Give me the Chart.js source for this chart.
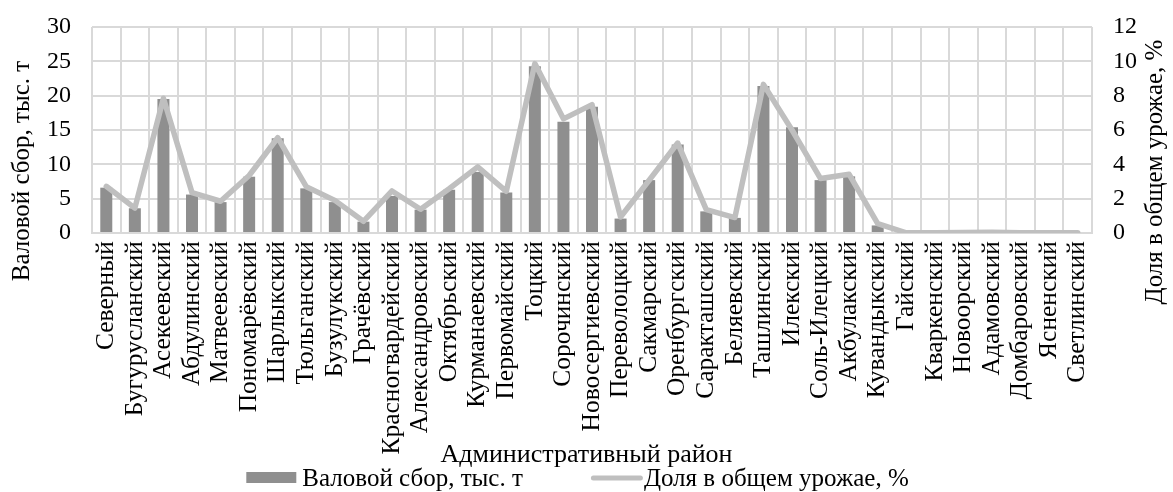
<!DOCTYPE html>
<html>
<head>
<meta charset="utf-8">
<script src="https://cdn.jsdelivr.net/npm/chart.js@4"></script>
<style>
  html, body { margin: 0; padding: 0; background: #fff; }
  canvas { display: block; }
</style>
</head>
<body>
<canvas id="chart" width="1173" height="492"></canvas>
<script>
// Districts of the region
const districts = [
  'Северный', 'Бугурусланский', 'Асекеевский', 'Абдулинский', 'Матвеевский',
  'Пономарёвский', 'Шарлыкский', 'Тюльганский', 'Бузулукский', 'Грачёвский',
  'Красногвардейский', 'Александровский', 'Октябрьский', 'Курманаевский', 'Первомайский',
  'Тоцкий', 'Сорочинский', 'Новосергиевский', 'Переволоцкий', 'Сакмарский',
  'Оренбургский', 'Саракташский', 'Беляевский', 'Ташлинский', 'Илекский',
  'Соль-Илецкий', 'Акбулакский', 'Кувандыкский', 'Гайский', 'Кваркенский',
  'Новоорский', 'Адамовский', 'Домбаровский', 'Ясненский', 'Светлинский'
];

// Gross harvest, thousand tonnes
const harvest = [
  6.6, 3.6, 19.5, 5.6, 4.5,
  8.2, 13.8, 6.5, 4.5, 1.65,
  5.4, 3.4, 6.3, 8.9, 5.9,
  24.3, 16.2, 18.4, 2.1, 7.7,
  12.9, 3.15, 2.2, 21.4, 15.4,
  7.7, 8.25, 1.1, 0, 0,
  0.05, 0.05, 0.02, 0, 0
];

// Share of the total harvest, %
const sharePct = [
  2.72, 1.45, 7.85, 2.35, 1.85,
  3.35, 5.55, 2.7, 1.9, 0.68,
  2.45, 1.38, 2.58, 3.85, 2.43,
  9.87, 6.65, 7.48, 0.93, 3.07,
  5.24, 1.36, 0.9, 8.66, 6.0,
  3.17, 3.42, 0.54, 0.01, 0.01,
  0.03, 0.04, 0.02, 0.01, 0.01
];

// Axis ranges and tick steps
const harvestAxis = { min: 0, max: 30, step: 5 };
const shareAxis = { min: 0, max: 12, step: 2 };

const barLabel = 'Валовой сбор, тыс. т';
const lineLabel = 'Доля в общем урожае, %';
const xTitle = 'Административный район';

const FAMILY = '"Liberation Serif", "Times New Roman", serif';
const TICK_SIZE = 24;
const CAT_SIZE = 25.5;
const AXIS_TITLE_SIZE = 25;
const X_TITLE_SIZE = 26;
const LEGEND_SIZE = 25;
const BAR_COLOR = '#8f8f8f';
const LINE_COLOR = '#bfbfbf';
const GRID_COLOR = '#d9d9d9';

// Axis titles and legend drawn on the canvas after the chart
const annotations = {
  id: 'annotations',
  afterDraw(chart) {
    const { ctx, width } = chart;
    ctx.save();
    ctx.fillStyle = '#000';
    ctx.textBaseline = 'middle';

    const verticalText = (text, x, y) => {
      ctx.save();
      ctx.translate(x, y);
      ctx.rotate(-Math.PI / 2);
      ctx.textAlign = 'center';
      ctx.fillText(text, 0, 0);
      ctx.restore();
    };
    ctx.font = `${AXIS_TITLE_SIZE}px ${FAMILY}`;
    verticalText(barLabel, 22, 171);
    verticalText(lineLabel, width - 18, 172);

    ctx.font = `${X_TITLE_SIZE}px ${FAMILY}`;
    ctx.textAlign = 'center';
    ctx.fillText(xTitle, width / 2, 455);

    // legend: bar swatch, then line swatch
    ctx.font = `${LEGEND_SIZE}px ${FAMILY}`;
    const items = chart.data.datasets.map(ds => ({
      text: ds.label,
      kind: ds.type,
      color: ds.type === 'line' ? ds.borderColor : ds.backgroundColor,
      textOffset: ds.type === 'line' ? 53 : 56
    }));
    const itemGap = 68;
    let total = 0;
    items.forEach((it, i) => {
      it.w = it.textOffset + ctx.measureText(it.text).width;
      total += it.w + (i ? itemGap : 0);
    });
    let x = width / 2 - 9 - total / 2;
    const y = 478;
    ctx.textAlign = 'left';
    items.forEach(it => {
      if (it.kind === 'line') {
        ctx.strokeStyle = it.color;
        ctx.lineWidth = 5;
        ctx.lineCap = 'round';
        ctx.beginPath();
        ctx.moveTo(x + 2.5, y);
        ctx.lineTo(x + 49.5, y);
        ctx.stroke();
      } else {
        ctx.fillStyle = it.color;
        ctx.fillRect(x, y - 6, 50, 11);
      }
      ctx.fillStyle = '#000';
      ctx.fillText(it.text, x + it.textOffset, y + 1);
      x += it.w + itemGap;
    });
    ctx.restore();
  }
};

// value axes: fixed width, no extra label padding above/below the plot
const fitValueAxis = width => scale => {
  scale.width = width;
  scale.paddingTop = 0;
  scale.paddingBottom = 0;
};

new Chart(document.getElementById('chart'), {
  type: 'bar',
  data: {
    labels: districts,
    datasets: [
      {
        type: 'bar',
        label: barLabel,
        data: harvest,
        yAxisID: 'y',
        backgroundColor: BAR_COLOR,
        barPercentage: 0.42,
        categoryPercentage: 1,
        order: 2
      },
      {
        type: 'line',
        label: lineLabel,
        data: sharePct,
        yAxisID: 'yR',
        borderColor: LINE_COLOR,
        borderWidth: 5.5,
        borderJoinStyle: 'round',
        borderCapStyle: 'round',
        pointRadius: 0,
        tension: 0,
        order: 1
      }
    ]
  },
  options: {
    responsive: false,
    animation: false,
    devicePixelRatio: 1,
    layout: { padding: { top: 27, left: 0, right: 0, bottom: 0 } },
    plugins: {
      legend: { display: false },
      tooltip: { enabled: false }
    },
    scales: {
      x: {
        grid: { color: GRID_COLOR, lineWidth: 2, drawTicks: false, offset: true },
        border: { color: GRID_COLOR, width: 2 },
        ticks: {
          autoSkip: false, minRotation: 90, maxRotation: 90, padding: 8,
          color: '#000', font: { family: FAMILY, size: CAT_SIZE }
        },
        afterFit(scale) { scale.height = 259; }
      },
      y: {
        position: 'left',
        min: harvestAxis.min, max: harvestAxis.max,
        grid: { color: GRID_COLOR, lineWidth: 2, drawTicks: false },
        border: { display: false },
        ticks: {
          stepSize: harvestAxis.step, padding: 21,
          color: '#000', font: { family: FAMILY, size: TICK_SIZE }
        },
        afterFit: fitValueAxis(92)
      },
      yR: {
        position: 'right',
        min: shareAxis.min, max: shareAxis.max,
        grid: { drawOnChartArea: false, drawTicks: false },
        border: { display: false },
        ticks: {
          stepSize: shareAxis.step, padding: 21,
          color: '#000', font: { family: FAMILY, size: TICK_SIZE }
        },
        afterFit: fitValueAxis(81)
      }
    }
  },
  plugins: [annotations]
});
</script>
</body>
</html>
